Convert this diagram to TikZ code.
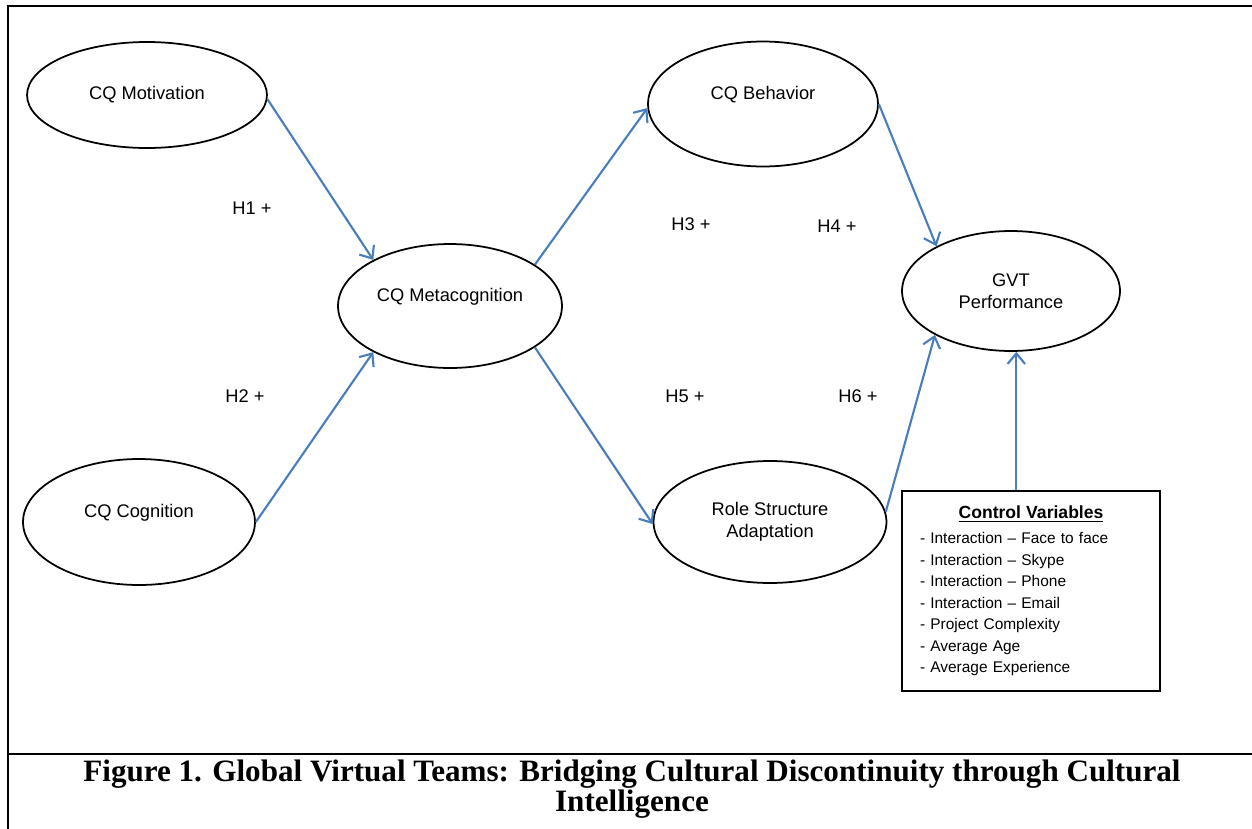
\documentclass[tikz,border=0pt]{standalone}
\usepackage{fontspec}
\setmainfont{Liberation Sans}
\newfontfamily\capfont{Liberation Serif}
\usetikzlibrary{arrows.meta,shapes.geometric}
\definecolor{linkblue}{RGB}{74,126,187}

\begin{document}
\begin{tikzpicture}[x=0.02cm, y=-0.02cm,
  lv/.style={ellipse, draw, line width=1pt, inner sep=0pt,
             font=\fontsize{10.4}{12.5}\selectfont, align=center},
  raised/.style={text depth=0.44cm},
  link/.style={draw=linkblue, line width=1.2pt,
               -{Straight Barb[length=6pt,width=10pt]}},
  hyp/.style={font=\fontsize{10.4}{12}\selectfont},
  ctrl/.style={draw, line width=1pt, minimum width=5.16cm,
               minimum height=4cm, text width=4.44cm, align=left,
               font=\fontsize{8.8}{12.2}\selectfont},
  caption/.style={font=\capfont\bfseries\fontsize{17.7}{17}\selectfont,
                  align=center}
]
\useasboundingbox (0,0) rectangle (1252,829);
% Frame
\draw[line width=1.1pt] (1252,6) -- (8,6) -- (8,829);
\draw[line width=1.1pt] (8,754) -- (1252,754);
% Latent variables
\node[lv, minimum width=4.8cm, minimum height=2.12cm] (mot) at (147,95) {CQ Motivation};
\node[lv, raised, minimum width=4.64cm, minimum height=2.52cm] (cog) at (139,522) {CQ Cognition};
\node[lv, raised, minimum width=4.48cm, minimum height=2.48cm] (meta) at (450,306) {CQ Metacognition};
\node[lv, raised, minimum width=4.6cm, minimum height=2.5cm] (beh) at (763,104) {CQ Behavior};
\node[lv, minimum width=4.66cm, minimum height=2.44cm] (role) at (770,522) {Role Structure\\Adaptation};
\node[lv, minimum width=4.36cm, minimum height=2.4cm] (gvt) at (1011,291) {GVT\\Performance};
% Controls
\node[ctrl] (ctl) at (1031,591) {{\centering\fontsize{10}{12}\selectfont\bfseries\underline{Control Variables}\par}\vspace{2pt}
  - Interaction -- Face to face\\
  - Interaction -- Skype\\
  - Interaction -- Phone\\
  - Interaction -- Email\\
  - Project Complexity\\
  - Average Age\\
  - Average Experience};
% Paths
\draw[link] (mot.-2) -- (meta.149);
\draw[link] (cog.east) -- (meta.211);
\draw[link] (meta.26) -- (beh.182);
\draw[link] (meta.-26) -- (role.181);
\draw[link] (beh.east) -- (gvt.149);
\draw[link] (role.5) -- (gvt.210);
\draw[link] (gvt.-85 |- ctl.north) -- (gvt.-85);
% Hypotheses
\node[hyp] (h1) at (252,208) {H1 +};
\node[hyp] (h2) at (245,396) {H2 +};
\node[hyp] (h3) at (691,224) {H3 +};
\node[hyp] (h4) at (837,226) {H4 +};
\node[hyp] (h5) at (685,396) {H5 +};
\node[hyp] (h6) at (858,396) {H6 +};
% Caption
\node[caption] (cap) at (632,789) {Figure 1. Global Virtual Teams: Bridging Cultural Discontinuity through Cultural\\Intelligence};
\end{tikzpicture}
\end{document}
